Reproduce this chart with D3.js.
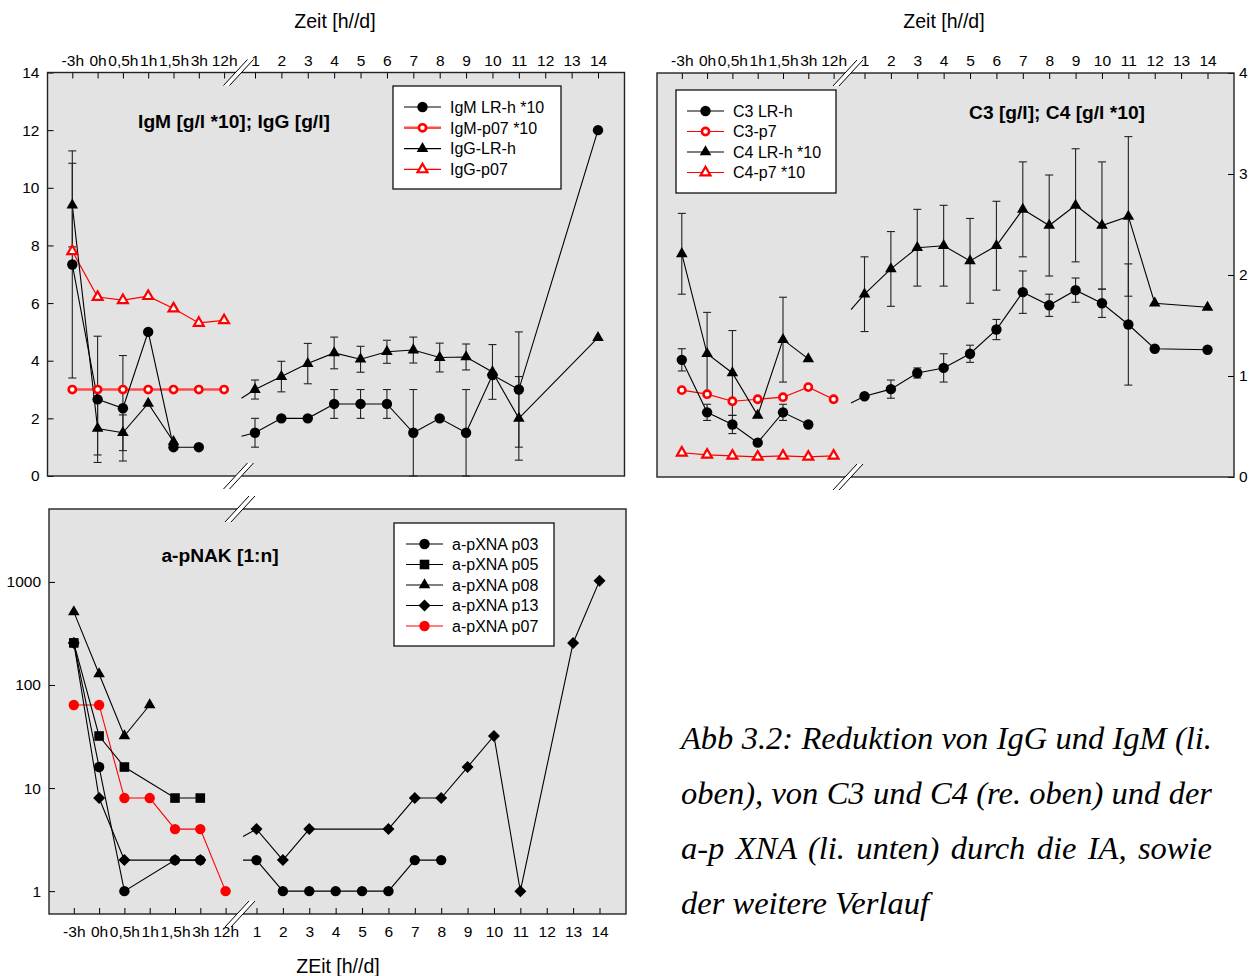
<!DOCTYPE html>
<meta charset="utf-8">
<script src="https://d3js.org/d3.v7.min.js"></script>
<style>
  body { margin: 0; background: #fff; }
  svg text { font-family: "Liberation Sans", Arial, sans-serif; fill: #000; }
</style>
<div id="chart"></div>
<script>
// ---- categories / ticks ----
const hourLabels = ["-3h", "0h", "0,5h", "1h", "1,5h", "3h", "12h"];
const dayTicks = [1, 2, 3, 4, 5, 6, 7, 8, 9, 10, 11, 12, 13, 14];
const igTicks = [0, 2, 4, 6, 8, 10, 12, 14];
const cTicks = [0, 1, 2, 3, 4];
const nakTicks = [1, 10, 100, 1000];

// ---- IgM / IgG (top left) ----
const igmLRhH    = [7.34, 2.66, 2.35, 5.0, 1.0, 1.0, null];
const igmLRhHErr = [3.94, 2.19, 1.83, null, null, null, null];
const igmLRhD    = [1.5, 2.0, 2.0, 2.5, 2.5, 2.5, 1.5, 2.0, 1.5, 3.5, 3.0, null, null, 12.0];
const igmLRhDErr = [0.5, null, null, 0.5, 0.5, 0.5, 1.5, null, 1.5, null, 2.0, null, null, null];
const igmP07H    = [3, 3, 3, 3, 3, 3, 3];
const iggLRhH    = [9.4, 1.65, 1.5, 2.52, 1.19, null, null];
const iggLRhHErr = [1.45, 0.92, 0.62, null, null, null, null];
const iggLRhD    = [3.0, 3.45, 3.9, 4.27, 4.05, 4.31, 4.37, 4.11, 4.13, 3.61, 2.0, null, null, 4.8];
const iggLRhDErr = [0.33, 0.53, 0.7, 0.55, 0.45, 0.4, 0.45, 0.5, 0.45, 0.95, 1.45, null, null, null];
const iggP07H    = [7.8, 6.21, 6.1, 6.24, 5.81, 5.31, 5.4];
const igLegend = ["IgM LR-h *10", "IgM-p07 *10", "IgG-LR-h", "IgG-p07"];

// ---- C3 / C4 (top right) ----
const c3LRhH    = [1.16, 0.64, 0.52, 0.34, 0.64, 0.52, null];
const c3LRhHErr = [0.11, 0.08, 0.09, null, 0.08, null, null];
const c3LRhD    = [0.80, 0.87, 1.03, 1.08, 1.22, 1.46, 1.83, 1.70, 1.85, 1.72, 1.51, 1.27, null, 1.26];
const c3LRhDErr = [null, 0.09, 0.05, 0.14, 0.085, 0.1, 0.21, 0.11, 0.12, 0.14, 0.6, null, null, null];
const c3P7H     = [0.86, 0.82, 0.75, 0.77, 0.79, 0.89, 0.77];
const c4LRhH    = [2.21, 1.22, 1.03, 0.61, 1.36, 1.17, null];
const c4LRhHErr = [0.4, 0.41, 0.42, null, 0.42, null, null];
const c4LRhD    = [1.81, 2.06, 2.27, 2.29, 2.14, 2.29, 2.65, 2.49, 2.69, 2.49, 2.58, 1.72, null, 1.68];
const c4LRhDErr = [0.37, 0.37, 0.38, 0.4, 0.42, 0.44, 0.47, 0.5, 0.56, 0.63, 0.79, null, null, null];
const c4P7H     = [0.24, 0.22, 0.21, 0.20, 0.21, 0.20, 0.21];
const cLegend = ["C3 LR-h", "C3-p7", "C4 LR-h *10", "C4-p7 *10"];

// ---- a-pXNA titres (bottom left) ----
const p03H = [256, 16, 1, null, 2, 2, null];
const p03D = [2, 1, 1, 1, 1, 1, 2, 2, null, null, null, null, null, null];
const p05H = [256, 32, 16, null, 8, 8, null];
const p08H = [512, 128, 32, 64, null, null, null];
const p13H = [256, 8, 2, null, 2, 2, null];
const p13D = [4, 2, 4, null, null, 4, 8, 8, 16, 32, 1, null, 256, 1024];
const p07H = [64, 64, 8, 8, 4, 4, 1];
const nakLegend = ["a-pXNA p03", "a-pXNA p05", "a-pXNA p08", "a-pXNA p13", "a-pXNA p07"];

const captionLines = [
  "Abb 3.2: Reduktion von IgG und IgM (li.",
  "oben), von C3 und C4 (re. oben) und der",
  "a-p XNA (li. unten) durch die IA, sowie",
  "der weitere Verlauf"
];

const svg = d3.select("#chart").append("svg")
  .attr("width", 1253).attr("height", 976);

const W = 577;
const RED = "#ff0000";

function drawMarker(g, sym, x, y) {
  if (sym === "circle" || sym === "circleRed") {
    g.append("circle").attr("cx", x).attr("cy", y).attr("r", 5.2).attr("fill", sym === "circle" ? "#000" : RED);
  } else if (sym === "circleOpen") {
    g.append("circle").attr("cx", x).attr("cy", y).attr("r", 3.6).attr("fill", "#fff")
      .attr("stroke", RED).attr("stroke-width", 2.6);
  } else if (sym === "triangle") {
    g.append("path").attr("d", d3.symbol(d3.symbolTriangle, 58)()).attr("fill", "#000")
      .attr("transform", `translate(${x},${y})`);
  } else if (sym === "triangleOpen") {
    g.append("path").attr("d", d3.symbol(d3.symbolTriangle, 42)()).attr("fill", "#fff")
      .attr("stroke", RED).attr("stroke-width", 2.2).attr("transform", `translate(${x},${y})`);
  } else if (sym === "square") {
    g.append("path").attr("d", d3.symbol(d3.symbolSquare, 92)()).attr("fill", "#000")
      .attr("transform", `translate(${x},${y})`);
  } else if (sym === "diamond") {
    g.append("path").attr("d", d3.symbol(d3.symbolSquare, 72)()).attr("fill", "#000")
      .attr("transform", `translate(${x},${y}) rotate(45)`);
  }
}

function styleAxis(sel) {
  sel.attr("font-size", null).attr("font-family", null);
  sel.select(".domain").remove();
  sel.selectAll(".tick line").attr("stroke", "#000").attr("stroke-width", 1);
  sel.selectAll(".tick text").attr("font-size", 15.5).attr("fill", "#000");
}

function drawPanel(p) {
  const g = svg.append("g");
  const xh = d3.scalePoint().domain(hourLabels).range([p.L + 24.8, p.L + 176.6]);
  const xd = d3.scaleLinear().domain([1, 14]).range([p.L + 207.5, p.L + 550.5]);
  const xb = p.L + 194;
  const y = p.y;

  g.append("rect").attr("x", p.L).attr("y", p.top).attr("width", W).attr("height", p.bottom - p.top)
    .attr("fill", "#e3e3e3");

  // x axes (hours and days)
  const top = p.xSide === "top";
  const ax1 = (top ? d3.axisTop(xh) : d3.axisBottom(xh)).tickSize(-6).tickPadding(top ? 7 : 12);
  const ax2 = (top ? d3.axisTop(xd) : d3.axisBottom(xd)).tickValues(dayTicks).tickFormat(d3.format("d"))
    .tickSize(-6).tickPadding(top ? 7 : 12);
  const yPos = top ? p.top : p.bottom;
  g.append("g").attr("transform", `translate(0,${yPos})`).call(ax1).call(styleAxis);
  g.append("g").attr("transform", `translate(0,${yPos})`).call(ax2).call(styleAxis);

  // y axis
  const left = p.ySide === "left";
  const ay = (left ? d3.axisLeft(y) : d3.axisRight(y)).tickValues(p.yTicks).tickFormat(d3.format("d"))
    .tickSize(-6).tickPadding(left ? 8 : 5);
  g.append("g").attr("transform", `translate(${left ? p.L : p.L + W},0)`).call(ay).call(styleAxis);

  const line = d3.line().x(d => d.x).y(d => d.y);
  const prepared = p.series.map(s => {
    const hp = [], dp = [];
    hourLabels.forEach((h, i) => {
      if (s.h && s.h[i] != null) hp.push({ x: xh(h), y: y(s.h[i]), v: s.h[i], e: s.he ? s.he[i] : null });
    });
    dayTicks.forEach((d, i) => {
      if (s.d && s.d[i] != null) dp.push({ x: xd(d), y: y(s.d[i]), v: s.d[i], e: s.de ? s.de[i] : null });
    });
    const dPath = dp.slice();
    if (hp.length && dp.length) {
      // line re-enters after the axis break, heading from the last hour value to day 1
      const a = hp[hp.length - 1], b = dp[0];
      const t = (xb - a.x) / (b.x - a.x);
      dPath.unshift({ x: xb, y: a.y + t * (b.y - a.y) });
    }
    return { s, hp, dp, dPath };
  });

  // draw order: as given (red first), legend order separately
  prepared.forEach(({ s, hp, dPath }) => {
    [hp, dPath].forEach(pts => {
      if (pts.length > 1) g.append("path").attr("d", line(pts)).attr("fill", "none")
        .attr("stroke", s.color).attr("stroke-width", s.lw);
    });
  });
  prepared.forEach(({ hp, dp }) => {
    hp.concat(dp).filter(d => d.e != null).forEach(d => {
      const y1 = y(d.v + d.e), y2 = y(Math.max(d.v - d.e, 0));
      g.append("line").attr("x1", d.x).attr("x2", d.x).attr("y1", y1).attr("y2", y2)
        .attr("stroke", "#222").attr("stroke-width", 1.1);
      [y1, y2].forEach(yy => g.append("line").attr("x1", d.x - 4).attr("x2", d.x + 4)
        .attr("y1", yy).attr("y2", yy).attr("stroke", "#222").attr("stroke-width", 1.1));
    });
  });
  prepared.forEach(({ s, hp, dp }) => {
    hp.concat(dp).forEach(d => drawMarker(g, s.sym, d.x, d.y));
  });

  // frame
  g.append("rect").attr("x", p.L).attr("y", p.top).attr("width", W).attr("height", p.bottom - p.top)
    .attr("fill", "none").attr("stroke", "#222").attr("stroke-width", 1.4);

  // axis break marks
  const bx = p.L + 191;
  [p.top, p.bottom].forEach(cy => {
    g.append("path")
      .attr("d", `M${bx - 15},${cy + 13}L${bx + 9},${cy - 13}L${bx + 15},${cy - 13}L${bx - 9},${cy + 13}Z`)
      .attr("fill", "#fff");
    [-3, 3].forEach(o => g.append("line")
      .attr("x1", bx - 12 + o).attr("y1", cy + 13).attr("x2", bx + 12 + o).attr("y2", cy - 13)
      .attr("stroke", "#000").attr("stroke-width", 1));
  });

  // panel title
  g.append("text").attr("x", p.titleX).attr("y", p.titleY).attr("text-anchor", "middle")
    .attr("font-size", 19.2).attr("font-weight", "bold").text(p.title);

  // legend
  const lg = p.legend;
  g.append("rect").attr("x", lg.x).attr("y", lg.y).attr("width", lg.w).attr("height", lg.h)
    .attr("fill", "#fff").attr("stroke", "#111").attr("stroke-width", 1.3);
  p.legendOrder.forEach((si, i) => {
    const s = p.series[si];
    const yy = lg.y0 + i * lg.dy;
    g.append("line").attr("x1", lg.lx).attr("x2", lg.lx + 37).attr("y1", yy).attr("y2", yy)
      .attr("stroke", s.color).attr("stroke-width", s.lw);
    drawMarker(g, s.sym, lg.lx + 18.5, yy);
    g.append("text").attr("x", lg.lx + 46).attr("y", yy + 5.8).attr("font-size", 16).text(p.labels[i]);
  });

  // axis title
  g.append("text").attr("x", p.axTitleX).attr("y", p.axTitleY).attr("text-anchor", "middle")
    .attr("font-size", 19.5).text(p.axTitle);
}

// top left: IgM / IgG
drawPanel({
  L: 47.5, top: 72.5, bottom: 476, xSide: "top", ySide: "left", yTicks: igTicks,
  y: d3.scaleLinear().domain([0, 14]).range([476, 72.5]),
  series: [
    { h: igmP07H, sym: "circleOpen", color: "#ff4a4a", lw: 2.6 },
    { h: iggP07H, sym: "triangleOpen", color: RED, lw: 1.2 },
    { h: igmLRhH, he: igmLRhHErr, d: igmLRhD, de: igmLRhDErr, sym: "circle", color: "#000", lw: 1.1 },
    { h: iggLRhH, he: iggLRhHErr, d: iggLRhD, de: iggLRhDErr, sym: "triangle", color: "#000", lw: 1.1 }
  ],
  legendOrder: [2, 0, 3, 1], labels: igLegend,
  title: "IgM [g/l *10]; IgG [g/l]", titleX: 234, titleY: 128,
  legend: { x: 393, y: 86, w: 168, h: 103, y0: 107, dy: 20.8, lx: 404 },
  axTitle: "Zeit [h//d]", axTitleX: 335, axTitleY: 28
});

// top right: C3 / C4
drawPanel({
  L: 657, top: 73, bottom: 477, xSide: "top", ySide: "right", yTicks: cTicks,
  y: d3.scaleLinear().domain([0, 4]).range([477, 73]),
  series: [
    { h: c3P7H, sym: "circleOpen", color: RED, lw: 1.2 },
    { h: c4P7H, sym: "triangleOpen", color: RED, lw: 1.2 },
    { h: c3LRhH, he: c3LRhHErr, d: c3LRhD, de: c3LRhDErr, sym: "circle", color: "#000", lw: 1.1 },
    { h: c4LRhH, he: c4LRhHErr, d: c4LRhD, de: c4LRhDErr, sym: "triangle", color: "#000", lw: 1.1 }
  ],
  legendOrder: [2, 0, 3, 1], labels: cLegend,
  title: "C3 [g/l]; C4 [g/l *10]", titleX: 1057, titleY: 119,
  legend: { x: 676, y: 90, w: 160, h: 103, y0: 111, dy: 20.5, lx: 687 },
  axTitle: "Zeit [h//d]", axTitleX: 944, axTitleY: 28
});

// bottom left: a-pNAK titres (log)
drawPanel({
  L: 49, top: 509, bottom: 914, xSide: "bottom", ySide: "left", yTicks: nakTicks,
  y: d3.scaleLog().domain([0.6, 5100]).range([914, 509]),
  series: [
    { h: p07H, sym: "circleRed", color: RED, lw: 1.1 },
    { h: p03H, d: p03D, sym: "circle", color: "#000", lw: 1.1 },
    { h: p05H, sym: "square", color: "#000", lw: 1.1 },
    { h: p08H, sym: "triangle", color: "#000", lw: 1.1 },
    { h: p13H, d: p13D, sym: "diamond", color: "#000", lw: 1.1 }
  ],
  legendOrder: [1, 2, 3, 4, 0], labels: nakLegend,
  title: "a-pNAK [1:n]", titleX: 220, titleY: 562,
  legend: { x: 394, y: 523, w: 160, h: 123, y0: 544, dy: 20.5, lx: 406 },
  axTitle: "ZEit [h//d]", axTitleX: 338, axTitleY: 973
});

// caption, justified over the first three lines
const capX = 681, capRight = 1212;
captionLines.forEach((t, i) => {
  const tx = svg.append("text").attr("x", capX).attr("y", 749 + i * 55)
    .style("font-family", "'Liberation Serif', 'Times New Roman', serif")
    .attr("font-style", "italic").attr("font-size", 32.5).text(t);
  if (i < captionLines.length - 1) {
    const gaps = t.split(" ").length - 1;
    const extra = (capRight - capX - tx.node().getComputedTextLength()) / gaps;
    tx.attr("word-spacing", extra);
  }
});
</script>
